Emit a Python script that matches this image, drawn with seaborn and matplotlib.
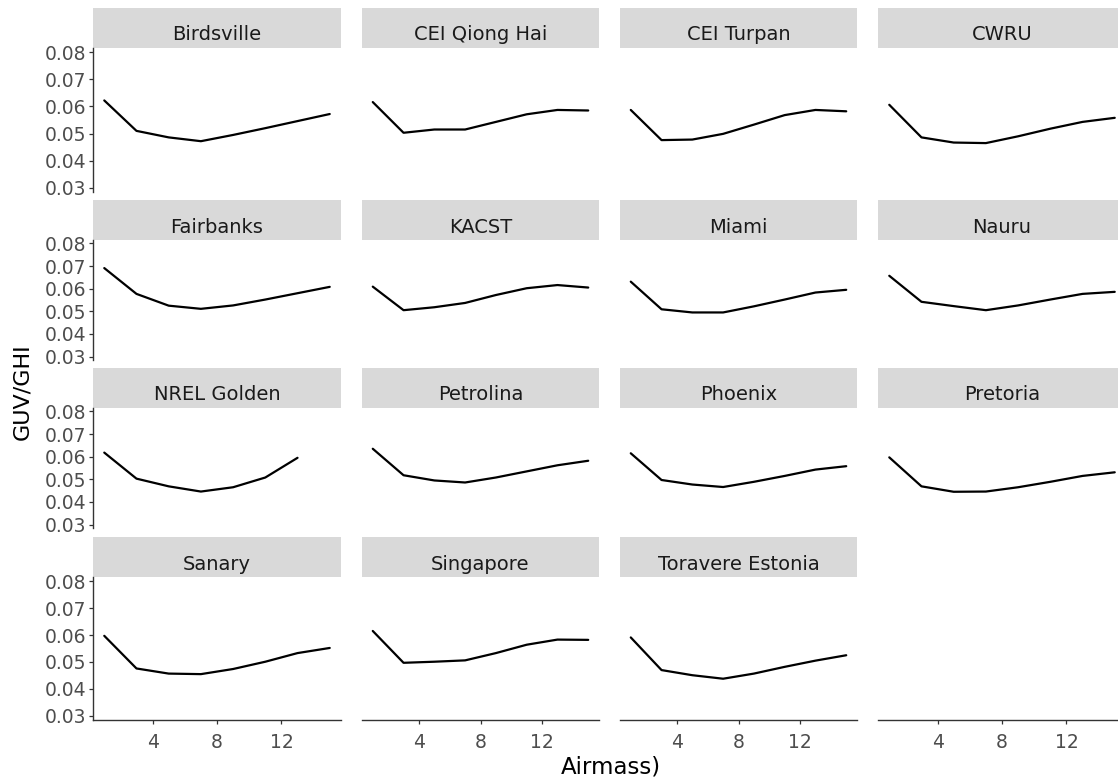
import numpy as np
import pandas as pd
import matplotlib
matplotlib.use("Agg")
import matplotlib.pyplot as plt
from matplotlib.patches import Rectangle
import seaborn as sns

# Airmass bins (x) and mean GUV/GHI ratio per site (y)
airmass = [1, 3, 5, 7, 9, 11, 13, 15]

sites = [
    "Birdsville", "CEI Qiong Hai", "CEI Turpan", "CWRU",
    "Fairbanks", "KACST", "Miami", "Nauru",
    "NREL Golden", "Petrolina", "Phoenix", "Pretoria",
    "Sanary", "Singapore", "Toravere Estonia",
]

birdsville = [0.0622, 0.0510, 0.0486, 0.0472, 0.0495, 0.0520, 0.0546, 0.0572]
cei_qiong_hai = [0.0616, 0.0503, 0.0515, 0.0515, 0.0543, 0.0571, 0.0587, 0.0585]
cei_turpan = [0.0587, 0.0476, 0.0478, 0.0499, 0.0533, 0.0568, 0.0587, 0.0582]
cwru = [0.0606, 0.0486, 0.0467, 0.0465, 0.0490, 0.0518, 0.0543, 0.0558]
fairbanks = [0.0691, 0.0577, 0.0525, 0.0511, 0.0526, 0.0552, 0.0580, 0.0608]
kacst = [0.0609, 0.0505, 0.0518, 0.0537, 0.0572, 0.0602, 0.0616, 0.0605]
miami = [0.0631, 0.0509, 0.0495, 0.0495, 0.0522, 0.0552, 0.0583, 0.0595]
nauru = [0.0657, 0.0542, 0.0523, 0.0505, 0.0526, 0.0552, 0.0577, 0.0586]
nrel_golden = [0.0618, 0.0503, 0.0469, 0.0446, 0.0465, 0.0508, 0.0595, np.nan]
petrolina = [0.0635, 0.0518, 0.0495, 0.0486, 0.0508, 0.0535, 0.0562, 0.0582]
phoenix = [0.0615, 0.0497, 0.0477, 0.0466, 0.0489, 0.0515, 0.0543, 0.0558]
pretoria = [0.0597, 0.0469, 0.0445, 0.0446, 0.0465, 0.0489, 0.0515, 0.0531]
sanary = [0.0597, 0.0476, 0.0457, 0.0455, 0.0474, 0.0501, 0.0533, 0.0552]
singapore = [0.0615, 0.0497, 0.0501, 0.0506, 0.0533, 0.0564, 0.0583, 0.0582]
toravere_estonia = [0.0591, 0.0470, 0.0451, 0.0438, 0.0457, 0.0482, 0.0505, 0.0525]

y_ticks = [0.03, 0.04, 0.05, 0.06, 0.07, 0.08]
x_ticks = [4, 8, 12]

series = [
    birdsville, cei_qiong_hai, cei_turpan, cwru,
    fairbanks, kacst, miami, nauru,
    nrel_golden, petrolina, phoenix, pretoria,
    sanary, singapore, toravere_estonia,
]

records = []
for site, vals in zip(sites, series):
    for x, v in zip(airmass, vals):
        records.append({"Site": site, "Airmass": x, "GUV/GHI": v})
df = pd.DataFrame(records).dropna()

sns.set_theme(style="white")
plt.rcParams["font.family"] = ["DejaVu Sans"]

W, H = 1118, 781
g = sns.relplot(
    data=df, x="Airmass", y="GUV/GHI", col="Site", col_wrap=4,
    col_order=sites, kind="line", color="black", linewidth=1.6,
    height=2, aspect=1.2, facet_kws=dict(sharex=True, sharey=True),
)
fig = g.figure
fig.set_size_inches(W / 100, H / 100)
fig.set_dpi(100)

col_px = [(93, 341), (362, 599), (620, 857), (878, 1126)]
row_px = [(48, 192), (240, 360), (408, 528), (577, 720)]
strip_h = 40
xlim = (0.3, 15.7)
ylim = (0.0285, 0.0815)
tick_col = "#4D4D4D"
axis_col = "#333333"


def place(ax, r, c):
    x0, x1 = col_px[c]
    y0, y1 = row_px[r]
    ax.set_position([x0 / W, 1 - y1 / H, (x1 - x0) / W, (y1 - y0) / H])


def style_axis(ax, left, bottom):
    for s in ax.spines.values():
        s.set_visible(False)
    ax.set_xlim(*xlim)
    ax.set_ylim(*ylim)
    ax.set_xticks(x_ticks)
    ax.set_yticks(y_ticks)
    ax.set_xlabel("")
    ax.set_ylabel("")
    ax.set_title("")
    ax.tick_params(axis="y", left=left, labelleft=left, length=3, width=0.9,
                   color=axis_col, labelcolor=tick_col, labelsize=13.5, pad=2)
    ax.tick_params(axis="x", bottom=bottom, labelbottom=bottom, length=3,
                   width=0.9, color=axis_col, labelcolor=tick_col,
                   labelsize=13.5, pad=6)
    if left:
        ax.spines["left"].set_visible(True)
        ax.spines["left"].set_color(axis_col)
        ax.spines["left"].set_linewidth(1.0)
        ax.set_yticklabels([f"{t:.2f}" for t in y_ticks])
    if bottom:
        ax.spines["bottom"].set_visible(True)
        ax.spines["bottom"].set_color(axis_col)
        ax.spines["bottom"].set_linewidth(1.0)
        ax.set_xticklabels([str(t) for t in x_ticks])


for i, (ax, site) in enumerate(zip(g.axes.flat, sites)):
    r, c = divmod(i, 4)
    place(ax, r, c)
    style_axis(ax, left=(c == 0), bottom=(r == 3))
    ph = row_px[r][1] - row_px[r][0]
    ax.add_patch(Rectangle((0, 1), 1, strip_h / ph, transform=ax.transAxes,
                           facecolor="#D9D9D9", edgecolor="none",
                           clip_on=False))
    ax.text(0.5, 1 + 13 / ph, site, transform=ax.transAxes,
            ha="center", va="center", fontsize=14, color="#1A1A1A")

# Empty slot in the last row still carries its column's x axis
ax_empty = fig.add_axes([0, 0, 0.1, 0.1])
place(ax_empty, 3, 3)
style_axis(ax_empty, left=False, bottom=True)
ax_empty.set_facecolor("white")

fig.text(22 / W, 1 - 392 / H, "GUV/GHI", rotation=90, ha="center",
         va="center", fontsize=16, color="black")
fig.text(611 / W, 1 - 767 / H, "Airmass)", ha="center", va="center",
         fontsize=16.5, color="black")

fig.savefig("out.png", dpi=100, facecolor="white")
